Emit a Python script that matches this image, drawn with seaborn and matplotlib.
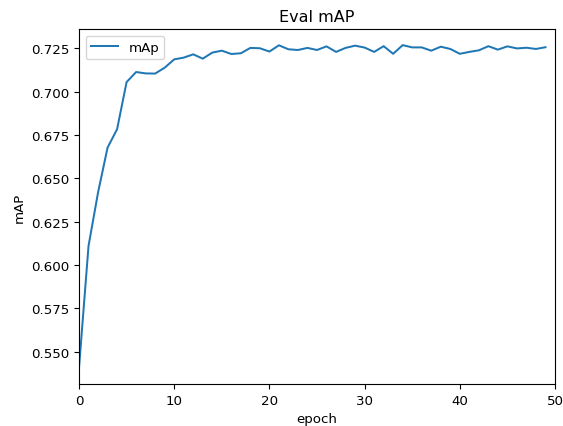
import pandas as pd
import seaborn as sns
import matplotlib
matplotlib.use('Agg')
import matplotlib.pyplot as plt

# eval mAP per epoch
epochs = list(range(50))
map_values = [0.5407, 0.6110, 0.6418, 0.6677, 0.6783, 0.7055, 0.7113, 0.7105, 0.7104, 0.7138,
              0.7186, 0.7196, 0.7215, 0.7190, 0.7225, 0.7236, 0.7217, 0.7221, 0.7252, 0.7250,
              0.7231, 0.7267, 0.7244, 0.7240, 0.7252, 0.7240, 0.7261, 0.7229, 0.7252, 0.7265,
              0.7254, 0.7229, 0.7262, 0.7218, 0.7268, 0.7255, 0.7255, 0.7236, 0.7259, 0.7246,
              0.7218, 0.7229, 0.7238, 0.7262, 0.7242, 0.7261, 0.7249, 0.7253, 0.7246, 0.7256]

df = pd.DataFrame({'epoch': epochs, 'mAP': map_values})

plt.rcParams['font.size'] = 9.6
fig, ax = plt.subplots(figsize=(5.63, 4.27), dpi=100)
fig.subplots_adjust(left=79/563, right=555/563, top=1-30/427, bottom=1-385/427)

sns.lineplot(data=df, x='epoch', y='mAP', color='#1f77b4', linewidth=1.44, label='mAp', ax=ax)
ax.set_xlim(0, 50)
ax.set_title('Eval mAP', fontsize=11.5)
ax.set_xlabel('epoch')
ax.set_ylabel('mAP')
ax.legend(loc='upper left')

plt.savefig('out.png', dpi=100)
